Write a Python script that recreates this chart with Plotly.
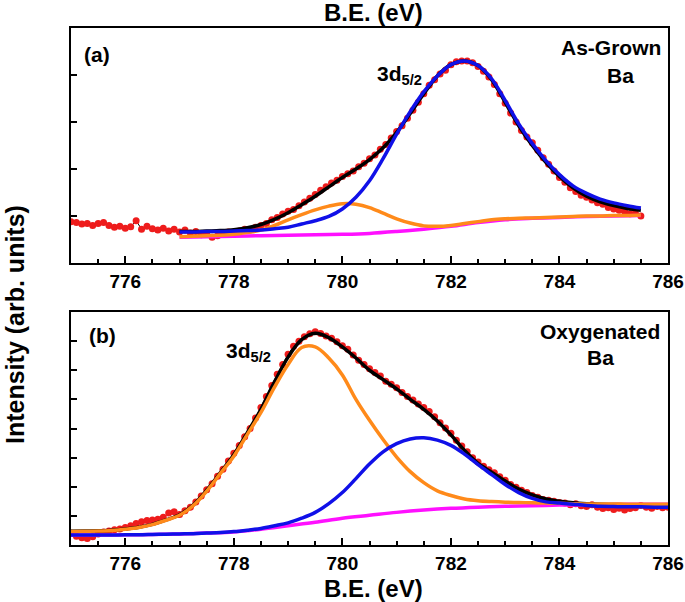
import numpy as np
import plotly.graph_objects as go

# ---------------- Panel (a): As-Grown Ba ----------------
a_data_x = [round(775.0 + 0.1 * i, 1) for i in range(106)]
a_data_y = [0.88, 0.86, 0.83, 0.84, 0.80, 0.84, 0.86, 0.80, 0.76, 0.78,
            0.74, 0.77, 0.90, 0.72, 0.78, 0.73, 0.70, 0.74, 0.68, 0.72,
            0.66, 0.70, 0.64, 0.67, 0.60, 0.62, 0.55, 0.58, 0.62, 0.66,
            0.63, 0.68, 0.72, 0.70, 0.76, 0.80, 0.84, 0.92, 0.97, 1.04,
            1.10, 1.14, 1.22, 1.30, 1.38, 1.46, 1.55, 1.62, 1.70, 1.76,
            1.84, 1.90, 1.96, 2.05, 2.12, 2.22, 2.30, 2.42, 2.52, 2.66,
            2.80, 2.92, 3.08, 3.25, 3.42, 3.60, 3.78, 3.90, 4.02, 4.10,
            4.22, 4.28, 4.30, 4.30, 4.26, 4.18, 4.08, 3.96, 3.80, 3.60,
            3.40, 3.19, 3.00, 2.82, 2.68, 2.56, 2.40, 2.24, 2.10, 1.96,
            1.82, 1.72, 1.60, 1.52, 1.44, 1.40, 1.34, 1.28, 1.25, 1.18,
            1.15, 1.12, 1.10, 1.05, 1.06, 1.00]

a_fit_x = [777.0 + 0.25 * i for i in range(35)]
a_envelope = [0.67, 0.67, 0.68, 0.69, 0.71, 0.75, 0.82, 0.93, 1.07, 1.24,
              1.42, 1.62, 1.82, 2.00, 2.20, 2.45, 2.78, 3.18, 3.60, 3.98,
              4.22, 4.30, 4.20, 3.90, 3.42, 2.92, 2.50, 2.14, 1.84, 1.60,
              1.42, 1.30, 1.22, 1.16, 1.12]
a_blue = [0.66, 0.66, 0.67, 0.67, 0.68, 0.69, 0.70, 0.73, 0.76, 0.83,
          0.90, 0.99, 1.15, 1.40, 1.75, 2.22, 2.74, 3.22, 3.64, 3.98,
          4.22, 4.30, 4.20, 3.92, 3.46, 2.96, 2.54, 2.18, 1.88, 1.64,
          1.48, 1.36, 1.28, 1.22, 1.17]
a_orange = [0.56, 0.57, 0.58, 0.59, 0.61, 0.65, 0.70, 0.80, 0.92, 1.03,
            1.13, 1.21, 1.26, 1.25, 1.18, 1.06, 0.94, 0.85, 0.79, 0.78,
            0.80, 0.84, 0.88, 0.92, 0.94, 0.95, 0.96, 0.97, 0.98, 0.99,
            1.00, 1.00, 1.01, 1.01, 1.02]
a_bg_x = [777.0, 777.5, 778.0, 778.5, 779.0, 779.5, 780.0, 780.5, 781.0, 781.5,
          782.0, 782.5, 783.0, 783.5, 784.0, 784.5, 785.0, 785.5]
a_bg = [0.55, 0.56, 0.57, 0.58, 0.59, 0.60, 0.61, 0.63, 0.67, 0.72,
        0.78, 0.86, 0.92, 0.95, 0.97, 0.99, 1.00, 1.01]

# ---------------- Panel (b): Oxygenated Ba ----------------
b_data_x = [round(775.0 + 0.1 * i, 1) for i in range(111)]
b_data_y = [0.40, 0.30, 0.25, 0.22, 0.28, 0.38, 0.45, 0.48, 0.52, 0.55,
            0.60, 0.66, 0.74, 0.80, 0.84, 0.86, 0.88, 0.95, 1.10, 1.14,
            1.05, 1.18, 1.30, 1.48, 1.68, 1.90, 2.10, 2.36, 2.60, 2.88,
            3.15, 3.42, 3.72, 4.00, 4.36, 4.72, 5.10, 5.48, 5.86, 6.20,
            6.55, 6.82, 7.00, 7.15, 7.25, 7.32, 7.26, 7.18, 7.10, 6.98,
            6.84, 6.72, 6.52, 6.34, 6.20, 6.05, 5.92, 5.80, 5.62, 5.52,
            5.40, 5.24, 5.10, 4.98, 4.84, 4.72, 4.58, 4.40, 4.20, 4.02,
            3.84, 3.60, 3.40, 3.20, 3.00, 2.85, 2.70, 2.58, 2.48, 2.34,
            2.22, 2.08, 1.98, 1.88, 1.80, 1.70, 1.64, 1.56, 1.54, 1.50,
            1.46, 1.44, 1.38, 1.42, 1.35, 1.32, 1.38, 1.30, 1.25, 1.28,
            1.22, 1.26, 1.20, 1.25, 1.28, 1.36, 1.30, 1.26, 1.32, 1.28,
            1.30]

b_fit_x = [775.0 + 0.25 * i for i in range(45)]
b_envelope = [0.47, 0.48, 0.49, 0.51, 0.55, 0.61, 0.71, 0.86, 1.04, 1.37,
              1.88, 2.48, 3.10, 3.86, 4.66, 5.60, 6.45, 7.05, 7.27, 7.12,
              6.80, 6.42, 6.00, 5.68, 5.36, 5.00, 4.66, 4.26, 3.78, 3.25,
              2.80, 2.50, 2.20, 1.92, 1.72, 1.58, 1.50, 1.45, 1.42, 1.40,
              1.39, 1.38, 1.38, 1.37, 1.37]
b_orange = [0.46, 0.47, 0.48, 0.50, 0.54, 0.60, 0.70, 0.85, 1.02, 1.35,
            1.85, 2.45, 3.05, 3.80, 4.55, 5.42, 6.20, 6.78, 6.80, 6.42,
            5.84, 5.00, 4.28, 3.62, 3.02, 2.52, 2.14, 1.86, 1.70, 1.58,
            1.52, 1.49, 1.47, 1.46, 1.45, 1.44, 1.43, 1.42, 1.41, 1.41,
            1.41, 1.40, 1.40, 1.40, 1.40]
b_blue = [0.34, 0.34, 0.34, 0.34, 0.35, 0.35, 0.36, 0.37, 0.38, 0.39,
          0.41, 0.43, 0.46, 0.51, 0.57, 0.66, 0.76, 0.92, 1.12, 1.42,
          1.80, 2.28, 2.78, 3.20, 3.48, 3.64, 3.68, 3.60, 3.42, 3.12,
          2.76, 2.42, 2.08, 1.80, 1.60, 1.48, 1.44, 1.40, 1.36, 1.33,
          1.32, 1.31, 1.31, 1.30, 1.30]
b_bg_x = [775.0 + 0.5 * i for i in range(23)]
b_bg = [0.34, 0.34, 0.35, 0.36, 0.38, 0.41, 0.45, 0.54, 0.66, 0.78,
        0.92, 1.02, 1.12, 1.20, 1.26, 1.30, 1.33, 1.35, 1.37, 1.38,
        1.39, 1.40, 1.40]

x_tick_vals = [776, 778, 780, 782, 784, 786]
x_tick_text = ["776", "778", "780", "782", "784", "786"]

RED = "#EE1C1C"
BLUE = "#1010E8"
ORANGE = "#FF8A1A"
MAGENTA = "#FF10FF"
FONT = "Liberation Sans, Arial, sans-serif"

W, H = 685, 602
ML, MR, MT, MB = 71, 17, 28, 57
PW, PH = W - ML - MR, H - MT - MB

fig = go.Figure()


def add_panel(xa, ya, dx, dy, env_x, env, orange, blue, bgx, bg):
    fig.add_trace(go.Scatter(x=dx, y=dy, mode="lines+markers", xaxis=xa, yaxis=ya,
                             line=dict(color="black", width=1),
                             marker=dict(color=RED, size=7, line=dict(width=0)),
                             showlegend=False, hoverinfo="skip"))
    fig.add_trace(go.Scatter(x=env_x, y=env, mode="lines", xaxis=xa, yaxis=ya,
                             line=dict(color="black", width=3.5, shape="spline"),
                             showlegend=False))
    fig.add_trace(go.Scatter(x=bgx, y=bg, mode="lines", xaxis=xa, yaxis=ya,
                             line=dict(color=MAGENTA, width=3.5, shape="spline"),
                             showlegend=False))
    fig.add_trace(go.Scatter(x=env_x, y=orange, mode="lines", xaxis=xa, yaxis=ya,
                             line=dict(color=ORANGE, width=3.5, shape="spline"),
                             showlegend=False))
    fig.add_trace(go.Scatter(x=env_x, y=blue, mode="lines", xaxis=xa, yaxis=ya,
                             line=dict(color=BLUE, width=3.5, shape="spline"),
                             showlegend=False))


add_panel("x", "y", a_data_x, a_data_y, a_fit_x, a_envelope, a_orange, a_blue, a_bg_x, a_bg)
add_panel("x2", "y2", b_data_x, b_data_y, b_fit_x, b_envelope, b_orange, b_blue, b_bg_x, b_bg)

xcommon = dict(range=[775, 786], tickmode="array", tickvals=x_tick_vals, ticktext=x_tick_text,
               ticks="inside", ticklen=7, tickwidth=2,
               tickcolor="black", showline=True, linewidth=2, linecolor="black", mirror=True,
               showgrid=False, zeroline=False, automargin=False,
               tickfont=dict(family=FONT, size=19, color="black", weight="bold"),
               minor=dict(dtick=0.5, tick0=775, ticks="inside", ticklen=4, tickwidth=2,
                          tickcolor="black", showgrid=False))
ycommon = dict(ticks="inside", ticklen=6, tickwidth=2, tickcolor="black", showline=True,
               linewidth=2, linecolor="black", mirror=True, showgrid=False, zeroline=False,
               showticklabels=False, dtick=1, tick0=0, automargin=False)

top_dom = [(H - MB - 263) / PH, 1.0]
bot_dom = [0.0, (H - MB - 312) / PH]

fig.update_layout(
    width=W, height=H,
    margin=dict(l=ML, r=MR, t=MT, b=MB, autoexpand=False),
    paper_bgcolor="white", plot_bgcolor="white",
    font=dict(family=FONT, color="black"),
    xaxis=dict(**xcommon, anchor="y"),
    yaxis=dict(**ycommon, range=[0, 5], domain=top_dom, anchor="x"),
    xaxis2=dict(**xcommon, anchor="y2"),
    yaxis2=dict(**ycommon, range=[0, 8], domain=bot_dom, anchor="x2"),
)


def fx(px):
    return (px - ML) / PW


def fy(py):
    return (H - MB - py) / PH


bold = dict(family=FONT, size=21, color="black", weight="bold")
big = dict(family=FONT, size=24, color="black", weight="bold")
ann = [
    dict(x=fx(97), y=fy(54), text="(a)", font=bold),
    dict(x=fx(375), y=fy(75), text="3d<sub>5/2</sub>", font=bold, xanchor="left"),
    dict(x=fx(611), y=fy(47), text="As-Grown", font=bold),
    dict(x=fx(620), y=fy(75), text="Ba", font=bold),
    dict(x=fx(102), y=fy(335), text="(b)", font=bold),
    dict(x=fx(224), y=fy(352), text="3d<sub>5/2</sub>", font=bold, xanchor="left"),
    dict(x=fx(600), y=fy(331), text="Oxygenated", font=bold),
    dict(x=fx(600), y=fy(357), text="Ba", font=bold),
    dict(x=fx(373), y=fy(13), text="B.E. (eV)", font=big),
    dict(x=fx(373), y=fy(588), text="B.E. (eV)", font=big),
    dict(x=fx(15), y=fy(325), text="Intensity (arb. units)", textangle=-90,
         font=dict(family=FONT, size=25, color="black", weight="bold")),
]
for a in ann:
    a.update(xref="paper", yref="paper", showarrow=False, yanchor="middle")
    a.setdefault("xanchor", "center")
fig.update_layout(annotations=ann)

fig.write_html("out.html", config={"displayModeBar": False},
               post_script="document.body.style.margin='0';document.body.style.overflow='hidden';")
